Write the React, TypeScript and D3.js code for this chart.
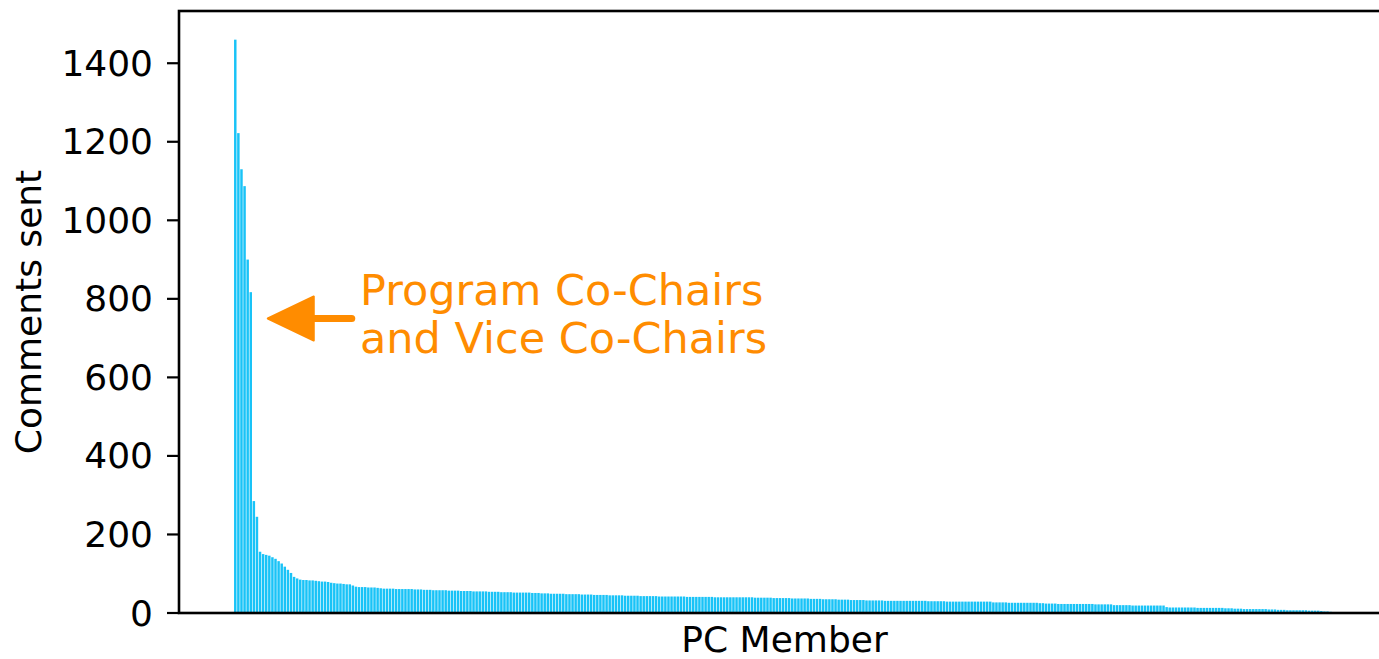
import React from "react";
import * as d3 from "d3";

const commentsSent: number[] = [
  1460, 1222, 1130, 1087, 900, 817, 285, 245,
  156, 150, 148, 146, 142,
  138, 132, 126, 118, 110, 102, 92, 88,
  85, 84, 84, 83, 83, 82, 81,
  80, 80, 79, 77, 76, 75, 75, 74, 73, 73,
  70, 67, 66, 66, 66, 65, 65, 65, 64, 63,
  62, 62, 62, 62, 61, 61, 61, 61, 61, 61, 60, 60, 60,
  59, 59, 59, 58, 58, 58, 58, 58, 57, 57, 57, 57,
  56, 56, 56, 56, 55, 55, 55, 55, 55, 54, 54, 54, 54,
  53, 53, 53, 53, 52, 52, 52, 52, 52, 52, 51, 51, 51, 50, 50,
  50, 49, 49, 49, 49, 49, 48, 48, 48, 48, 48,
  47, 47, 47, 47, 46, 46, 46,
  46, 46, 45, 45, 45, 45, 45, 44, 44, 44, 44, 44, 43, 43, 43, 43, 43, 43,
  42, 42, 42, 42, 42, 42, 42, 42, 42, 41, 41, 41, 41, 41, 41, 41, 41, 41,
  40, 40, 40, 40, 40, 40, 40, 40, 40, 40, 40, 40,
  40, 39, 39, 39, 39, 39, 39, 38, 38, 38, 38, 38, 38, 37, 37, 37,
  37, 37, 37, 36, 36, 36, 36, 35, 35, 35, 35, 35, 34, 34, 34, 34,
  33, 33, 33, 33, 33, 32, 32, 32, 32, 32, 32, 31, 31, 31, 31, 31,
  31, 31, 31, 31, 31, 31, 31, 31, 31, 30, 30, 30, 30, 30, 30, 29,
  29, 29, 29, 29, 29, 29, 29, 29, 29, 29, 29, 29, 29, 29,
  27, 27, 27, 27, 27, 26, 26, 26, 26, 26, 26, 26, 26, 26, 26, 25, 25,
  24, 24, 24, 24, 23, 23, 23, 23, 23, 23, 23, 23, 23, 23, 23, 23, 22, 22, 22, 22, 22, 22,
  20, 20, 20, 20, 20, 20, 19, 19, 19, 19, 19, 19, 19, 19, 19, 19, 19,
  15, 14, 14, 14, 14, 14, 14, 14, 14, 14, 13, 13, 13, 13, 13, 13, 13, 13, 13, 12, 12, 12,
  11, 11, 11, 10, 10, 10, 10, 10, 10, 10, 10, 9, 9, 9,
  8, 8, 8, 7, 7, 7, 7, 7, 7, 7, 6, 6, 6, 6,
  5, 4, 4, 3, 2,
];

const yTicks: number[] = [0, 200, 400, 600, 800, 1000, 1200, 1400];
const yLabel = "Comments sent";
const xLabel = "PC Member";
const annotationLines: string[] = ["Program Co-Chairs", "and Vice Co-Chairs"];
const annotationTarget = 750;

const W = 1379;
const H = 659;
const left = 179;
const right = 1390;
const top = 11;
const bottom = 613;
const font = "'DejaVu Sans', sans-serif";
const barColor = "#19c3f7";
const orange = "#ff8c00";
const axisFont = 36;

export default function App() {
  const n = commentsSent.length;
  const barW = 0.8;
  const margin = 0.05 * (n - 1 + barW);
  const x = d3
    .scaleLinear()
    .domain([-barW / 2 - margin, n - 1 + barW / 2 + margin])
    .range([left, right]);
  const yMax = (d3.max(commentsSent) as number) * 1.05;
  const y = d3.scaleLinear().domain([0, yMax]).range([bottom, top]);

  const arrowY = y(annotationTarget);
  const tipX = x(10.5);
  const headLen = 46;
  const headHalf = 22;
  const tailX = tipX + 84;

  return (
    <svg
      width={W}
      height={H}
      style={{ position: "absolute", left: 0, top: 0, background: "#fff" }}
    >
      <g>
        {commentsSent.map((v, i) => (
          <rect
            key={i}
            x={x(i - barW / 2)}
            width={x(barW) - x(0)}
            y={y(v)}
            height={bottom - y(v)}
            fill={barColor}
          />
        ))}
      </g>
      <rect
        x={left}
        y={top}
        width={right - left}
        height={bottom - top}
        fill="none"
        stroke="#000"
        strokeWidth={2.6}
      />
      {yTicks.map((t) => (
        <g key={t}>
          <line x1={left - 12} x2={left} y1={y(t)} y2={y(t)} stroke="#000" strokeWidth={2.2} />
          <text
            x={left - 26}
            y={y(t)}
            textAnchor="end"
            dominantBaseline="central"
            fontFamily={font}
            fontSize={axisFont}
            fill="#000"
          >
            {t}
          </text>
        </g>
      ))}
      <text
        transform={`translate(${28}, ${(top + bottom) / 2}) rotate(-90)`}
        textAnchor="middle"
        dominantBaseline="central"
        fontFamily={font}
        fontSize={axisFont}
        fill="#000"
      >
        {yLabel}
      </text>
      <text
        x={(left + right) / 2}
        y={652}
        textAnchor="middle"
        fontFamily={font}
        fontSize={axisFont}
        fill="#000"
      >
        {xLabel}
      </text>
      <line
        x1={tipX + headLen - 2}
        x2={tailX}
        y1={arrowY}
        y2={arrowY}
        stroke={orange}
        strokeWidth={7}
        strokeLinecap="round"
      />
      <path
        d={`M${tipX},${arrowY} L${tipX + headLen},${arrowY - headHalf} L${tipX + headLen},${arrowY + headHalf} Z`}
        fill={orange}
        stroke={orange}
        strokeWidth={2}
        strokeLinejoin="round"
      />
      {annotationLines.map((s, i) => (
        <text
          key={i}
          x={360}
          y={305 + i * 48}
          fontFamily={font}
          fontSize={43}
          fill={orange}
        >
          {s}
        </text>
      ))}
    </svg>
  );
}
